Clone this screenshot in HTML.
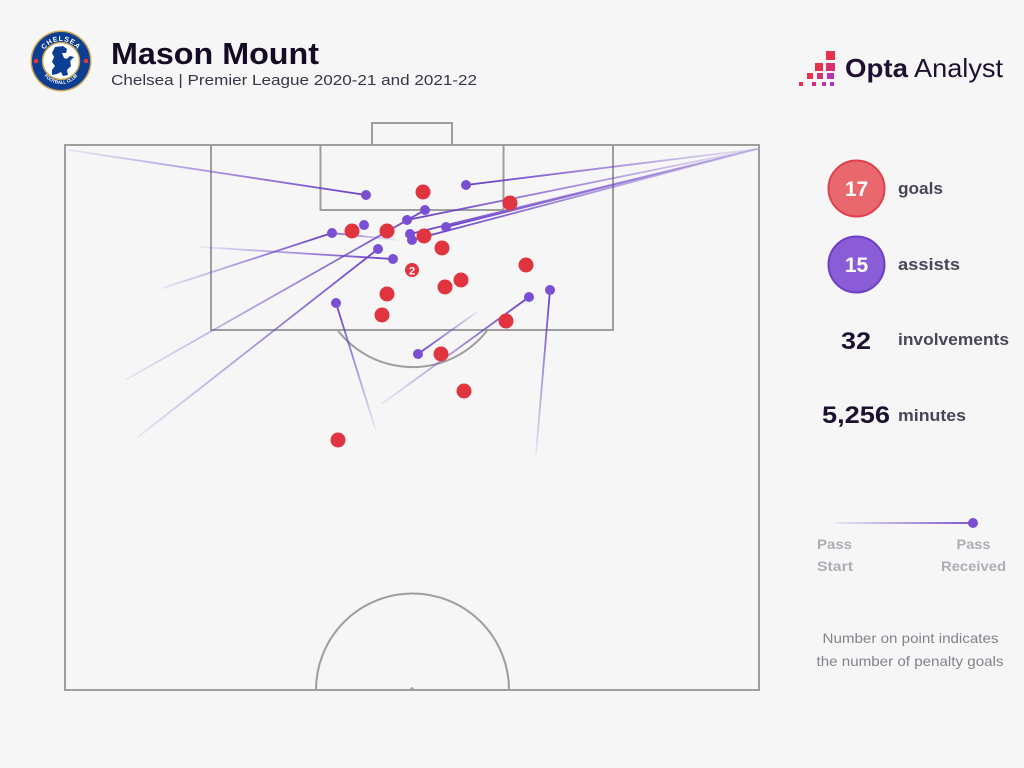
<!DOCTYPE html>
<html><head><meta charset="utf-8"><style>
html,body{margin:0;padding:0;background:#f6f6f6;}
svg{display:block;}
text{font-family:"Liberation Sans",sans-serif;}
</style></head><body>
<svg width="1024" height="768" viewBox="0 0 1024 768" xmlns="http://www.w3.org/2000/svg">
<defs>
<linearGradient id="g1" gradientUnits="userSpaceOnUse" x1="69" y1="150" x2="366" y2="195"><stop offset="0" stop-color="#6a3fc8" stop-opacity="0.1"/><stop offset="1" stop-color="#6a3fc8"/></linearGradient>
<linearGradient id="g2" gradientUnits="userSpaceOnUse" x1="163" y1="288" x2="332" y2="233"><stop offset="0" stop-color="#6a3fc8" stop-opacity="0.1"/><stop offset="1" stop-color="#6a3fc8"/></linearGradient>
<linearGradient id="g3" gradientUnits="userSpaceOnUse" x1="398" y1="240" x2="332" y2="233"><stop offset="0" stop-color="#6a3fc8" stop-opacity="0.05"/><stop offset="1" stop-color="#6a3fc8" stop-opacity="0.8"/></linearGradient>
<linearGradient id="g4" gradientUnits="userSpaceOnUse" x1="200" y1="247" x2="393" y2="259"><stop offset="0" stop-color="#6a3fc8" stop-opacity="0.1"/><stop offset="1" stop-color="#6a3fc8"/></linearGradient>
<linearGradient id="g5" gradientUnits="userSpaceOnUse" x1="138" y1="437" x2="378" y2="249"><stop offset="0" stop-color="#6a3fc8" stop-opacity="0.1"/><stop offset="1" stop-color="#6a3fc8"/></linearGradient>
<linearGradient id="g6" gradientUnits="userSpaceOnUse" x1="127" y1="379" x2="425" y2="210"><stop offset="0" stop-color="#6a3fc8" stop-opacity="0.1"/><stop offset="1" stop-color="#6a3fc8"/></linearGradient>
<linearGradient id="g7" gradientUnits="userSpaceOnUse" x1="757" y1="149" x2="466" y2="185"><stop offset="0" stop-color="#6a3fc8" stop-opacity="0.1"/><stop offset="1" stop-color="#6a3fc8"/></linearGradient>
<linearGradient id="g8" gradientUnits="userSpaceOnUse" x1="757" y1="149" x2="407" y2="220"><stop offset="0" stop-color="#6a3fc8" stop-opacity="0.1"/><stop offset="1" stop-color="#6a3fc8"/></linearGradient>
<linearGradient id="g9" gradientUnits="userSpaceOnUse" x1="757" y1="149" x2="446" y2="227"><stop offset="0" stop-color="#6a3fc8" stop-opacity="0.1"/><stop offset="1" stop-color="#6a3fc8"/></linearGradient>
<linearGradient id="g10" gradientUnits="userSpaceOnUse" x1="757" y1="149" x2="410" y2="234"><stop offset="0" stop-color="#6a3fc8" stop-opacity="0.1"/><stop offset="1" stop-color="#6a3fc8"/></linearGradient>
<linearGradient id="g11" gradientUnits="userSpaceOnUse" x1="757" y1="149" x2="412" y2="240"><stop offset="0" stop-color="#6a3fc8" stop-opacity="0.1"/><stop offset="1" stop-color="#6a3fc8"/></linearGradient>
<linearGradient id="g12" gradientUnits="userSpaceOnUse" x1="375" y1="428" x2="336" y2="303"><stop offset="0" stop-color="#6a3fc8" stop-opacity="0.1"/><stop offset="1" stop-color="#6a3fc8"/></linearGradient>
<linearGradient id="g13" gradientUnits="userSpaceOnUse" x1="383" y1="403" x2="529" y2="297"><stop offset="0" stop-color="#6a3fc8" stop-opacity="0.1"/><stop offset="1" stop-color="#6a3fc8"/></linearGradient>
<linearGradient id="g14" gradientUnits="userSpaceOnUse" x1="477" y1="312" x2="418" y2="354"><stop offset="0" stop-color="#6a3fc8" stop-opacity="0.1"/><stop offset="1" stop-color="#6a3fc8"/></linearGradient>
<linearGradient id="g15" gradientUnits="userSpaceOnUse" x1="536" y1="454" x2="550" y2="290"><stop offset="0" stop-color="#6a3fc8" stop-opacity="0.1"/><stop offset="1" stop-color="#6a3fc8"/></linearGradient>
<linearGradient id="gl" gradientUnits="userSpaceOnUse" x1="835" y1="523" x2="973" y2="523"><stop offset="0" stop-color="#6a3fc8" stop-opacity="0.1"/><stop offset="1" stop-color="#6a3fc8"/></linearGradient>
<path id="topArc" d="M 41 61 A 20 20 0 0 1 81 61"/>
<path id="botArc" d="M 40 63 A 21 21 0 0 0 82 63"/>
</defs>

<rect width="1024" height="768" fill="#f6f6f6"/>

<!-- Chelsea badge -->
<circle cx="61" cy="61" r="30.5" fill="#c9a452"/>
<circle cx="61" cy="61" r="29" fill="#0c3f93"/>
<circle cx="61" cy="61" r="18.5" fill="#ffffff" stroke="#c9a452" stroke-width="1.5"/>
<text font-size="7" font-weight="bold" fill="#ffffff" letter-spacing="0.8"><textPath href="#topArc" startOffset="50%" text-anchor="middle">CHELSEA</textPath></text>
<text font-size="4.5" font-weight="bold" fill="#ffffff"><textPath href="#botArc" startOffset="50%" text-anchor="middle">FOOTBALL CLUB</textPath></text>
<circle cx="36" cy="61" r="2.3" fill="#e03a3e"/>
<circle cx="86" cy="61" r="2.3" fill="#e03a3e"/>
<path d="M55 47 L63 46 L67 49 L66 53 L62 53 L64 58 L70 60 L71 66 L67 70 L68 75 L63 76 L61 72 L57 74 L52 75 L52 70 L55 66 L52 62 L54 57 L52 53 Z" fill="#0c3f93"/>
<path d="M63 62 L70 56 L74 57 L70 61 Z" fill="#0c3f93"/>

<!-- Title -->
<text x="111" y="64" font-size="31" font-weight="bold" fill="#140b24" textLength="208" lengthAdjust="spacingAndGlyphs">Mason Mount</text>
<text x="111" y="85" font-size="15" fill="#3a3545" textLength="366" lengthAdjust="spacingAndGlyphs">Chelsea | Premier League 2020-21 and 2021-22</text>

<!-- Opta Analyst logo -->
<rect x="826" y="51" width="9" height="9" fill="#e8314a"/>
<rect x="815" y="63" width="8" height="8" fill="#e8314a"/>
<rect x="826" y="63" width="9" height="8" fill="#d8306e"/>
<rect x="807" y="73" width="6" height="6" fill="#e8314a"/>
<rect x="817" y="73" width="6" height="6" fill="#d33078"/>
<rect x="827" y="73" width="7" height="6" fill="#b832b8"/>
<rect x="799" y="82" width="4" height="4" fill="#e8314a"/>
<rect x="812" y="82" width="4" height="4" fill="#d33078"/>
<rect x="822" y="82" width="4" height="4" fill="#c431a0"/>
<rect x="830" y="82" width="4" height="4" fill="#a833c8"/>
<text x="845" y="77" font-size="26" font-weight="bold" fill="#1e1030" textLength="63" lengthAdjust="spacingAndGlyphs">Opta</text>
<text x="914" y="77" font-size="26" fill="#1e1030" textLength="89" lengthAdjust="spacingAndGlyphs">Analyst</text>

<!-- Pitch -->
<g fill="none" stroke="#9e9e9e" stroke-width="2">
<rect x="65" y="145" width="694" height="545"/>
<rect x="211" y="145" width="402" height="185"/>
<rect x="320.5" y="145" width="183" height="65"/>
<polyline points="372,145 372,123 452,123 452,145"/>
<path d="M 337.5 330 A 94.4 94.4 0 0 0 487.5 330"/>
<path d="M 316 690 A 96.5 96.5 0 0 1 509 690"/>
</g>
<circle cx="412" cy="689" r="1.8" fill="#9e9e9e"/>

<!-- Assist lines -->
<g stroke-width="1.8" fill="none" stroke-linecap="round">
<line x1="69" y1="150" x2="366" y2="195" stroke="url(#g1)"/>
<line x1="163" y1="288" x2="332" y2="233" stroke="url(#g2)"/>
<line x1="398" y1="240" x2="332" y2="233" stroke="url(#g3)"/>
<line x1="200" y1="247" x2="393" y2="259" stroke="url(#g4)"/>
<line x1="138" y1="437" x2="378" y2="249" stroke="url(#g5)"/>
<line x1="127" y1="379" x2="425" y2="210" stroke="url(#g6)"/>
<line x1="757" y1="149" x2="466" y2="185" stroke="url(#g7)"/>
<line x1="757" y1="149" x2="407" y2="220" stroke="url(#g8)"/>
<line x1="757" y1="149" x2="446" y2="227" stroke="url(#g9)"/>
<line x1="757" y1="149" x2="410" y2="234" stroke="url(#g10)"/>
<line x1="757" y1="149" x2="412" y2="240" stroke="url(#g11)"/>
<line x1="375" y1="428" x2="336" y2="303" stroke="url(#g12)"/>
<line x1="383" y1="403" x2="529" y2="297" stroke="url(#g13)"/>
<line x1="477" y1="312" x2="418" y2="354" stroke="url(#g14)"/>
<line x1="536" y1="454" x2="550" y2="290" stroke="url(#g15)"/>
</g>

<!-- Assist dots -->
<g fill="#7a4fd4">
<circle cx="366" cy="195" r="5"/>
<circle cx="332" cy="233" r="5"/>
<circle cx="364" cy="225" r="5"/>
<circle cx="393" cy="259" r="5"/>
<circle cx="378" cy="249" r="5"/>
<circle cx="425" cy="210" r="5"/>
<circle cx="466" cy="185" r="5"/>
<circle cx="407" cy="220" r="5"/>
<circle cx="446" cy="227" r="5"/>
<circle cx="410" cy="234" r="5"/>
<circle cx="412" cy="240" r="5"/>
<circle cx="336" cy="303" r="5"/>
<circle cx="529" cy="297" r="5"/>
<circle cx="418" cy="354" r="5"/>
<circle cx="550" cy="290" r="5"/>
</g>

<!-- Goals -->
<g fill="#e0343f">
<circle cx="423" cy="192" r="7.5"/>
<circle cx="510" cy="203" r="7.5"/>
<circle cx="352" cy="231" r="7.5"/>
<circle cx="387" cy="231" r="7.5"/>
<circle cx="424" cy="236" r="7.5"/>
<circle cx="442" cy="248" r="7.5"/>
<circle cx="526" cy="265" r="7.5"/>
<circle cx="461" cy="280" r="7.5"/>
<circle cx="445" cy="287" r="7.5"/>
<circle cx="387" cy="294" r="7.5"/>
<circle cx="382" cy="315" r="7.5"/>
<circle cx="506" cy="321" r="7.5"/>
<circle cx="441" cy="354" r="7.5"/>
<circle cx="464" cy="391" r="7.5"/>
<circle cx="338" cy="440" r="7.5"/>
<circle cx="412" cy="270" r="7"/>
</g>
<text x="412" y="274.5" font-size="11" font-weight="bold" fill="#ffffff" text-anchor="middle">2</text>

<!-- Stats panel -->
<circle cx="856.5" cy="188.5" r="28" fill="#e8686e" stroke="#e0404b" stroke-width="2"/>
<text x="856.5" y="196" font-size="21" font-weight="bold" fill="#ffffff" text-anchor="middle">17</text>
<text x="898" y="194" font-size="17" font-weight="bold" fill="#4a4557" textLength="45" lengthAdjust="spacingAndGlyphs">goals</text>

<circle cx="856.5" cy="264.5" r="28" fill="#8a5cd6" stroke="#6b3fc8" stroke-width="2"/>
<text x="856.5" y="272" font-size="21" font-weight="bold" fill="#ffffff" text-anchor="middle">15</text>
<text x="898" y="270" font-size="17" font-weight="bold" fill="#4a4557" textLength="62" lengthAdjust="spacingAndGlyphs">assists</text>

<text x="841" y="349" font-size="24" font-weight="bold" fill="#1b1030" textLength="30" lengthAdjust="spacingAndGlyphs">32</text>
<text x="898" y="345" font-size="17" font-weight="bold" fill="#4a4557" textLength="111" lengthAdjust="spacingAndGlyphs">involvements</text>

<text x="822" y="423" font-size="24" font-weight="bold" fill="#1b1030" textLength="68" lengthAdjust="spacingAndGlyphs">5,256</text>
<text x="898" y="421" font-size="17" font-weight="bold" fill="#4a4557" textLength="68" lengthAdjust="spacingAndGlyphs">minutes</text>

<!-- Legend -->
<line x1="835" y1="523" x2="973" y2="523" stroke="url(#gl)" stroke-width="1.8"/>
<circle cx="973" cy="523" r="5" fill="#7a4fd4"/>
<g font-size="14" font-weight="bold" fill="#b0acb6">
<text x="817" y="549" textLength="35" lengthAdjust="spacingAndGlyphs">Pass</text>
<text x="817" y="571" textLength="36" lengthAdjust="spacingAndGlyphs">Start</text>
<text x="956.5" y="549" textLength="34" lengthAdjust="spacingAndGlyphs">Pass</text>
<text x="941" y="571" textLength="65" lengthAdjust="spacingAndGlyphs">Received</text>
</g>
<g font-size="14" fill="#85818c">
<text x="822.5" y="643" textLength="176" lengthAdjust="spacingAndGlyphs">Number on point indicates</text>
<text x="816.5" y="666" textLength="187" lengthAdjust="spacingAndGlyphs">the number of penalty goals</text>
</g>
</svg>
</body></html>
